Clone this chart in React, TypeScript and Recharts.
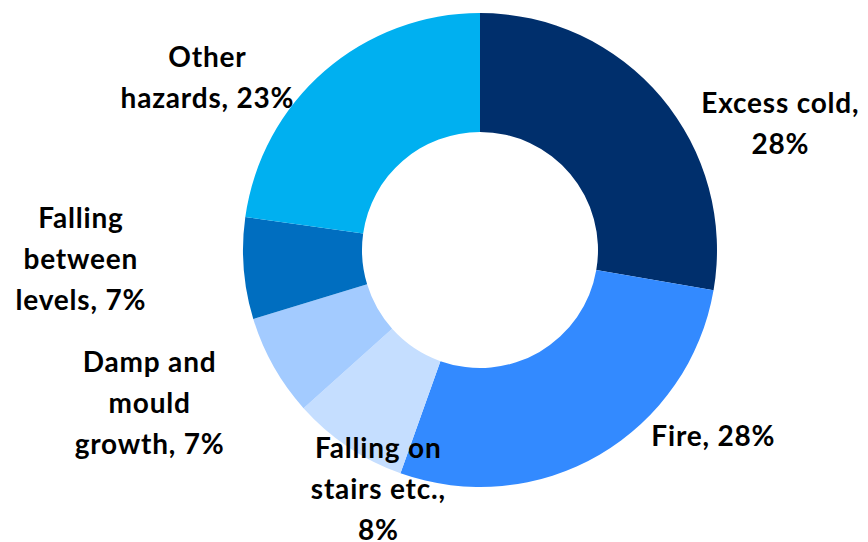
import React from 'react';
import { PieChart, Pie, Cell } from 'recharts';

const CATEGORIES = [
  'Excess cold',
  'Fire',
  'Falling on stairs etc.',
  'Damp and mould growth',
  'Falling between levels',
  'Other hazards',
];
const SHARES = [28, 28, 8, 7, 7, 23];
const LABEL_LINES = [
  ['Excess cold,', '28%'],
  ['Fire, 28%'],
  ['Falling on', 'stairs etc.,', '8%'],
  ['Damp and', 'mould', 'growth, 7%'],
  ['Falling', 'between', 'levels, 7%'],
  ['Other', 'hazards, 23%'],
];

const COLORS = ['#002F6C', '#338AFF', '#C5DEFF', '#A3CBFF', '#006EC0', '#00B0F0'];

// nudges from the radial anchor point to the first baseline of each label
const LABEL_NUDGE = [
  [77, 51],
  [86, -56],
  [61, -34],
  [-76, -21],
  [-108, -45],
  [-81, 37],
];

const RAD = Math.PI / 180;
const FONT = 'Lato, "Open Sans", sans-serif';
const LINE_H = 41;

const data = CATEGORIES.map((name, i) => ({ name, value: SHARES[i] }));

const renderLabel = (props: any) => {
  const { cx, cy, midAngle, outerRadius, index } = props;
  const r = outerRadius + 55;
  const x = cx + r * Math.cos(-midAngle * RAD) + LABEL_NUDGE[index][0];
  const y = cy + r * Math.sin(-midAngle * RAD) + LABEL_NUDGE[index][1];
  return (
    <text
      key={`lbl-${index}`}
      x={x}
      y={y}
      textAnchor="middle"
      fill="#000"
      style={{ fontFamily: FONT, fontWeight: 700, fontSize: 28, letterSpacing: 0.8 }}
    >
      {LABEL_LINES[index].map((line, j) => (
        <tspan key={j} x={x} y={y + j * LINE_H}>
          {line}
        </tspan>
      ))}
    </text>
  );
};

export default function App() {
  return (
    <div style={{ position: 'absolute', left: 0, top: 0, width: 868, height: 542, background: '#fff' }}>
      <PieChart width={868} height={542} margin={{ top: 0, right: 0, bottom: 0, left: 0 }}>
        <Pie
          data={data}
          dataKey="value"
          nameKey="name"
          cx={480}
          cy={250}
          innerRadius={118}
          outerRadius={237}
          startAngle={90}
          endAngle={-270}
          stroke="none"
          label={renderLabel}
          labelLine={false}
          isAnimationActive={false}
        >
          {data.map((entry, i) => (
            <Cell key={`cell-${i}`} fill={COLORS[i]} />
          ))}
        </Pie>
      </PieChart>
    </div>
  );
}
